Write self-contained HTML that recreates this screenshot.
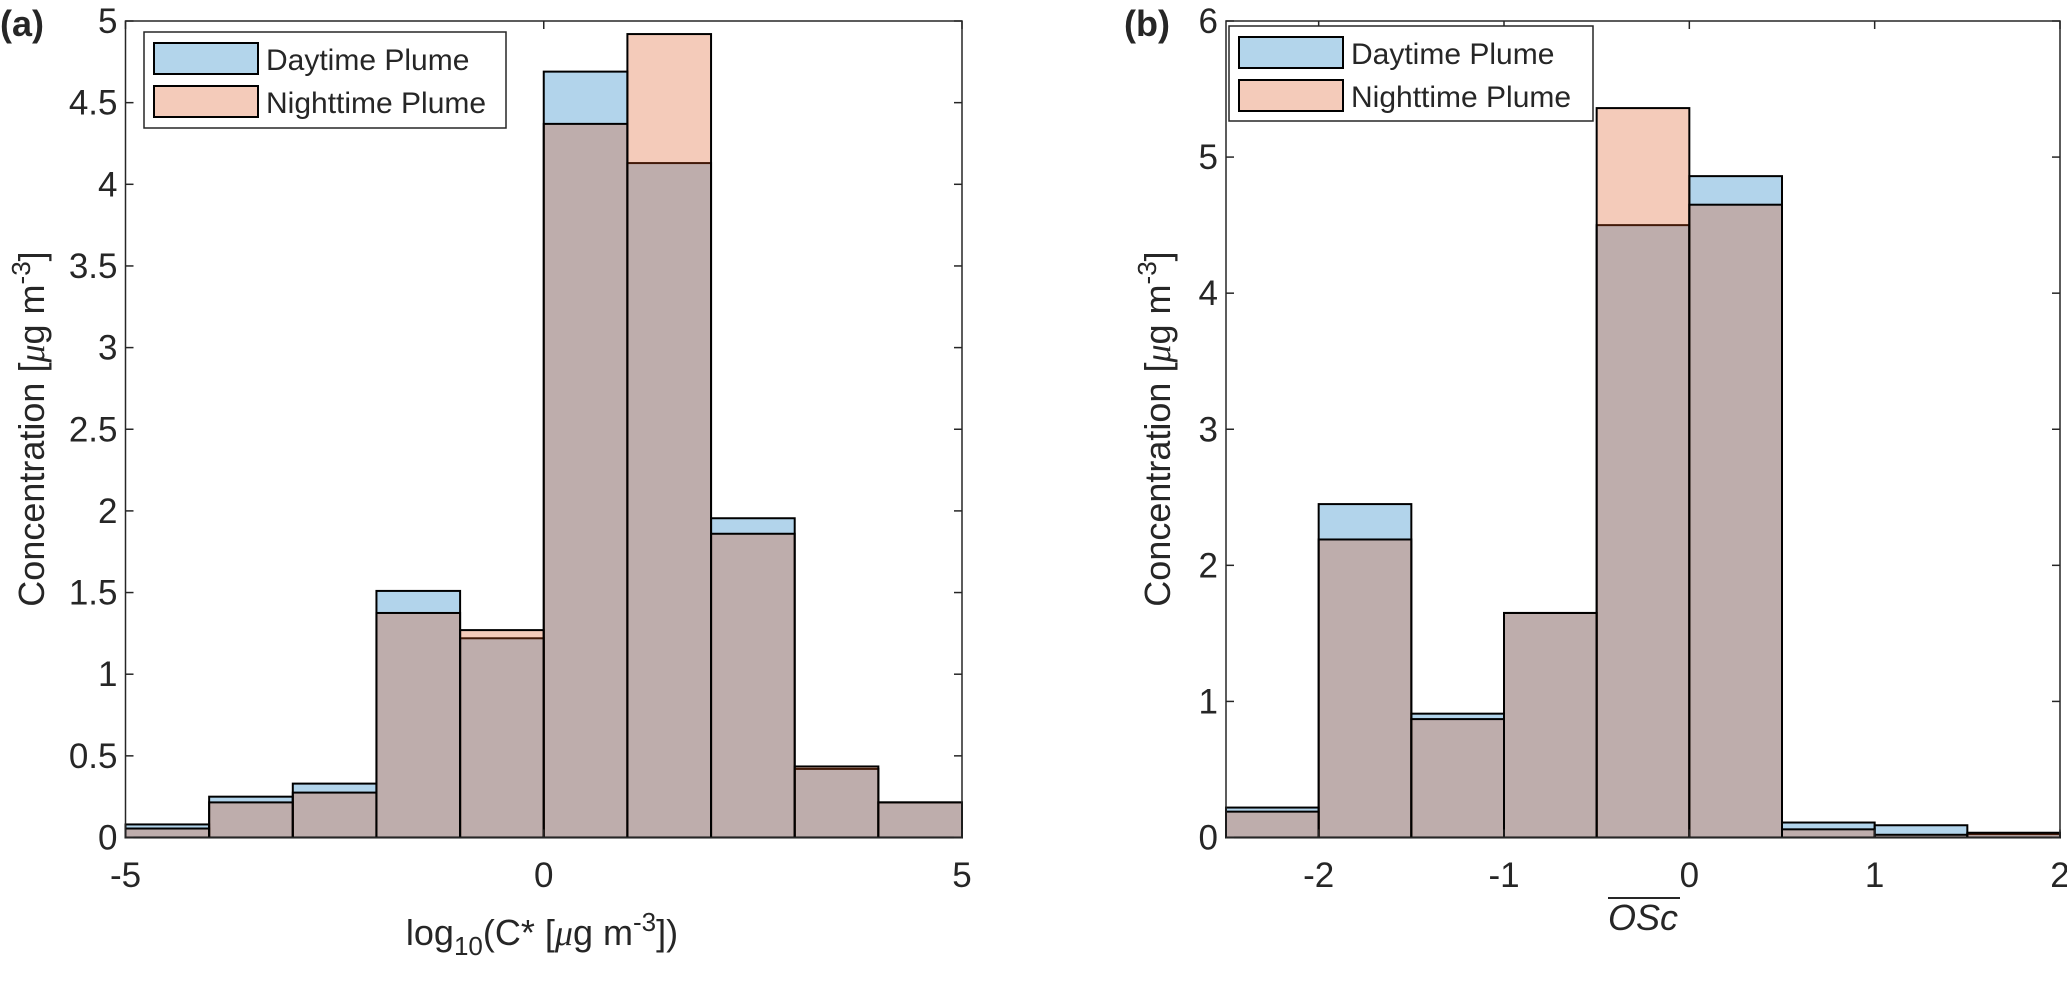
<!DOCTYPE html>
<html><head><meta charset="utf-8"><style>
body{margin:0;background:#fff;}
svg text{font-family:"Liberation Sans",sans-serif;fill:#262626;}
</style></head><body>
<svg id="fig" width="2067" height="964" viewBox="0 0 2067 964" xmlns="http://www.w3.org/2000/svg"></svg>
<script>
// Panel (a) data
const binsA = [-5,-4,-3,-2,-1,0,1,2,3,4,5];
const dayA = [0.08,0.25,0.33,1.51,1.22,4.69,4.13,1.955,0.42,0.215];
const nightA = [0.055,0.215,0.275,1.375,1.27,4.37,4.92,1.86,0.435,0.215];
const yTicksA = [0,0.5,1,1.5,2,2.5,3,3.5,4,4.5,5];
const xTicksA = [-5,0,5];
// Panel (b) data
const binsB = [-2.5,-2,-1.5,-1,-0.5,0,0.5,1,1.5,2];
const dayB = [0.22,2.45,0.91,1.65,4.5,4.86,0.11,0.09,0.025];
const nightB = [0.19,2.19,0.87,1.65,5.36,4.65,0.06,0.02,0.035];
const yTicksB = [0,1,2,3,4,5,6];
const xTicksB = [-2,-1,0,1,2];

const NS='http://www.w3.org/2000/svg';
const svg=document.getElementById('fig');
function mk(tag,attrs,parent){const e=document.createElementNS(NS,tag);for(const k in attrs)e.setAttribute(k,attrs[k]);(parent||svg).appendChild(e);return e;}

function panel(cfg){
  const g=mk('g',{});
  
  
  const L=cfg.left,R=cfg.right,T=21,B=837.5;
  const xs=v=>L+(v-cfg.xmin)/(cfg.xmax-cfg.xmin)*(R-L);
  const ys=v=>B-(v/cfg.ymax)*(B-T);
  mk('rect',{x:L,y:T,width:R-L,height:B-T,fill:'#fff'},g);
  const series=[[cfg.day,'rgb(0,114,189)','day'],[cfg.night,'rgb(217,83,25)','night']];
  series.forEach(([vals,col,nm])=>{
    vals.forEach((v,i)=>{
      const x0=xs(cfg.bins[i]),x1=xs(cfg.bins[i+1]);
      const r=mk('rect',{x:x0,y:ys(v),width:x1-x0,height:B-ys(v),fill:col,'fill-opacity':0.3,stroke:'#000','stroke-width':2},g);
      
      
    });
  });
  // axes box
  mk('rect',{x:L,y:T,width:R-L,height:B-T,fill:'none',stroke:'#262626','stroke-width':1.5},g);
  cfg.yTicks.forEach(t=>{
    const y=ys(t);
    mk('line',{x1:L,x2:L+8,y1:y,y2:y,stroke:'#262626','stroke-width':1.5},g);
    mk('line',{x1:R,x2:R-8,y1:y,y2:y,stroke:'#262626','stroke-width':1.5},g);
    const tx=mk('text',{x:L-8,y:y+12,'text-anchor':'end','font-size':35},g);
    tx.textContent=t;
    
    
  });
  cfg.xTicks.forEach(t=>{
    const x=xs(t);
    mk('line',{x1:x,x2:x,y1:B,y2:B-8,stroke:'#262626','stroke-width':1.5},g);
    mk('line',{x1:x,x2:x,y1:T,y2:T+8,stroke:'#262626','stroke-width':1.5},g);
    const tx=mk('text',{x:x,y:887,'text-anchor':'middle','font-size':35},g);
    tx.textContent=t;
    
    
  });
  // legend
  const lg=mk('g',{},g);
  
  
  const lx=cfg.leg[0],ly=cfg.leg[1],lw=cfg.leg[2],lh=cfg.leg[3];
  mk('rect',{x:lx,y:ly,width:lw,height:lh,fill:'#fff',stroke:'#262626','stroke-width':1.5},lg);
  [['Daytime Plume','#b3d5eb',ly+11],['Nighttime Plume','#f4cbba',ly+54]].forEach(([lab,c,yy])=>{
    mk('rect',{x:lx+10,y:yy,width:104,height:31,fill:c,stroke:'#000','stroke-width':2},lg);
    const t=mk('text',{x:lx+122,y:yy+27,'font-size':30,fill:'#000'},lg);
    t.textContent=lab;
  });
  return {g,L,R,T,B};
}

const a=panel({name:'panel-a',left:125.5,right:962,xmin:-5,xmax:5,ymax:5,bins:binsA,day:dayA,night:nightA,yTicks:yTicksA,xTicks:xTicksA,leg:[144,32,362,96]});
const b=panel({name:'panel-b',left:1226,right:2060,xmin:-2.5,xmax:2,ymax:6,bins:binsB,day:dayB,night:nightB,yTicks:yTicksB,xTicks:xTicksB,leg:[1229,26,364,95]});
</script>
<svg width="0" height="0"></svg>
<div style="position:absolute;left:0;top:0;width:2067px;height:964px;pointer-events:none;">
<svg width="2067" height="964" xmlns="http://www.w3.org/2000/svg" style="position:absolute;left:0;top:0">
  <text x="0" y="36" font-size="36" font-weight="bold" font-family="Liberation Sans, sans-serif" fill="#000">(a)</text>
  <text x="1124" y="36" font-size="36" font-weight="bold" font-family="Liberation Sans, sans-serif" fill="#000">(b)</text>
  <text transform="translate(44,429) rotate(-90)" text-anchor="middle" font-size="36" font-family="Liberation Sans, sans-serif" fill="#262626">Concentration [<tspan font-style="italic" font-family="Liberation Serif, serif">μ</tspan>g m<tspan dy="-14" font-size="26">-3</tspan><tspan dy="14">]</tspan></text>
  <text transform="translate(1170,429) rotate(-90)" text-anchor="middle" font-size="36" font-family="Liberation Sans, sans-serif" fill="#262626">Concentration [<tspan font-style="italic" font-family="Liberation Serif, serif">μ</tspan>g m<tspan dy="-14" font-size="26">-3</tspan><tspan dy="14">]</tspan></text>
  <text x="542" y="945" text-anchor="middle" font-size="36" font-family="Liberation Sans, sans-serif" fill="#262626">log<tspan dy="10" font-size="26">10</tspan><tspan dy="-10">(C* [</tspan><tspan font-style="italic" font-family="Liberation Serif, serif">μ</tspan>g m<tspan dy="-14" font-size="26">-3</tspan><tspan dy="14">])</tspan></text>
  <line x1="1608" x2="1680" y1="898" y2="898" stroke="#262626" stroke-width="2"/>
  <text x="1643" y="930" text-anchor="middle" font-size="36" font-style="italic" font-family="Liberation Serif, serif" fill="#262626">OSc</text>
</svg>
</div>
</body></html>
